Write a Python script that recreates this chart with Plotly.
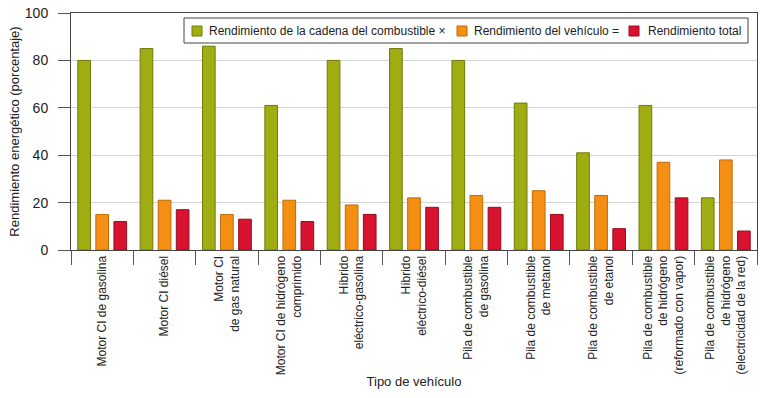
import plotly.graph_objects as go

categories = [
    "Motor CI de gasolina",
    "Motor CI diésel",
    "Motor CI<br>de gas natural",
    "Motor CI de hidrógeno<br>comprimido",
    "Híbrido<br>eléctrico-gasolina",
    "Híbrido<br>eléctrico-diésel",
    "Pila de combustible<br>de gasolina",
    "Pila de combustible<br>de metanol",
    "Pila de combustible<br>de etanol",
    "Pila de combustible<br>de hidrógeno<br>(reformado con vapor)",
    "Pila de combustible<br>de hidrógeno<br>(electricidad de la red)",
]
cadena = [80, 85, 86, 61, 80, 85, 80, 62, 41, 61, 22]
vehiculo = [15, 21, 15, 21, 19, 22, 23, 25, 23, 37, 38]
total = [12, 17, 13, 12, 15, 18, 18, 15, 9, 22, 8]
series_names = [
    "Rendimiento de la cadena del combustible ×",
    "Rendimiento del vehículo =",
    "Rendimiento total",
]
y_ticks = [0, 20, 40, 60, 80, 100]

colors = ["#9fad12", "#f48f14", "#d8132f"]
edges = ["#6f7a08", "#c06a05", "#9a0a1e"]

W, H = 770, 398
ML, MR, MT, MB = 71, 13, 13, 148
PW, PH = W - ML - MR, H - MT - MB


def px_x(p):
    return (p - ML) / PW


def px_y(p):
    return (H - MB - p) / PH


fig = go.Figure()
for name, vals, c, e in zip(series_names, [cadena, vehiculo, total], colors, edges):
    fig.add_trace(go.Bar(x=categories, y=vals, name=name, showlegend=False,
                         marker=dict(color=c, line=dict(color=e, width=1))))

font = "Liberation Sans, Arial, sans-serif"

# custom legend box (matching reference layout)
shapes = [dict(type="rect", xref="paper", yref="paper",
               x0=px_x(184), x1=px_x(748), y0=px_y(43), y1=px_y(18),
               line=dict(color="#444", width=1), fillcolor="white", layer="above")]
annotations = []
swatch_x = [192, 457, 629]
text_x = [207, 472, 646]
for name, c, e, sx, tx in zip(series_names, colors, edges, swatch_x, text_x):
    shapes.append(dict(type="rect", xref="paper", yref="paper",
                       x0=px_x(sx), x1=px_x(sx + 10), y0=px_y(36), y1=px_y(26),
                       line=dict(color=e, width=1), fillcolor=c, layer="above"))
    annotations.append(dict(text=name, xref="paper", yref="paper", x=px_x(tx),
                            y=px_y(31), xanchor="left", yanchor="middle",
                            showarrow=False, font=dict(size=12, color="#222")))

fig.update_layout(
    width=W, height=H,
    margin=dict(l=ML, r=MR, t=MT, b=MB),
    paper_bgcolor="white", plot_bgcolor="white",
    font=dict(family=font, size=12, color="#222"),
    barmode="group", bargap=0.13, bargroupgap=0.3,
    showlegend=False,
    shapes=shapes, annotations=annotations,
)
fig.update_yaxes(range=[0, 100], tickvals=y_ticks, ticks="outside", ticklen=12,
                 tickcolor="#555", showline=True, linecolor="#444", mirror=True,
                 showgrid=True, gridcolor="#d4d4d4", zeroline=False,
                 automargin=False, ticklabelstandoff=7,
                 tickfont=dict(size=14, color="#222"),
                 title=dict(text="Rendimiento energético (porcentaje)",
                            font=dict(size=13, color="#222"), standoff=2))
fig.update_xaxes(tickangle=-90, ticks="outside", tickson="boundaries", ticklen=14,
                 tickcolor="#555", showline=True, linecolor="#444", mirror=True,
                 automargin=False,
                 tickfont=dict(size=12, color="#222"),
                 title=dict(text="Tipo de vehículo", font=dict(size=13, color="#222"),
                            standoff=2))
fig.write_html("out.html",
               config={"displayModeBar": False},
               post_script="document.body.style.margin='0px';"
                           "document.body.style.overflow='hidden';")
